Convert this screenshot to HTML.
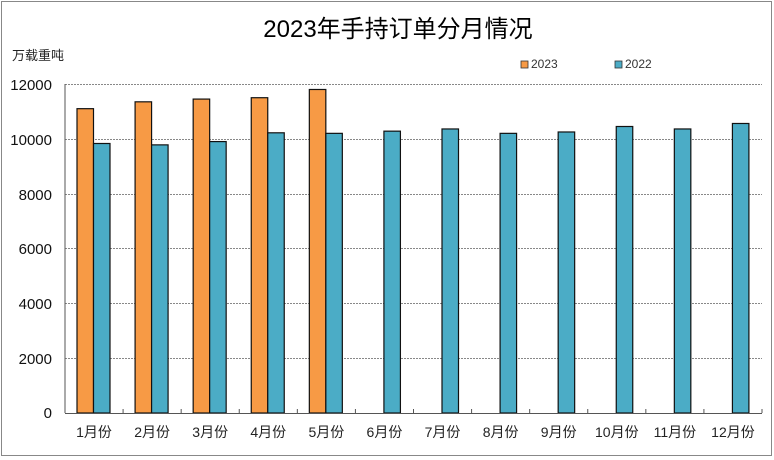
<!DOCTYPE html>
<html><head><meta charset="utf-8"><style>
html,body{margin:0;padding:0;background:#fff;}
svg{display:block;font-family:"Liberation Sans","Noto Sans CJK SC",sans-serif;}
</style></head><body>
<svg width="774" height="460" viewBox="0 0 774 460" xmlns="http://www.w3.org/2000/svg">
<rect x="0" y="0" width="774" height="460" fill="#fff"/>
<rect x="1.5" y="1.5" width="770" height="454" fill="none" stroke="#888" stroke-width="1"/>
<text x="398" y="37" font-size="24" text-anchor="middle" fill="#000">2023年手持订单分月情况</text>
<text x="12" y="60" font-size="13" fill="#222">万载重吨</text>
<rect x="521" y="61" width="7" height="7" fill="#f79a45" stroke="#333" stroke-width="0.8"/>
<text x="531" y="68" font-size="12" fill="#333">2023</text>
<rect x="615" y="61" width="7" height="7" fill="#4bacc6" stroke="#333" stroke-width="0.8"/>
<text x="625" y="68" font-size="12" fill="#333">2022</text>
<g stroke="#888" stroke-dasharray="2,1" stroke-width="1">
<line x1="65" y1="84.5" x2="762" y2="84.5"/>
<line x1="65" y1="139.5" x2="762" y2="139.5"/>
<line x1="65" y1="194.5" x2="762" y2="194.5"/>
<line x1="65" y1="248.5" x2="762" y2="248.5"/>
<line x1="65" y1="303.5" x2="762" y2="303.5"/>
<line x1="65" y1="358.5" x2="762" y2="358.5"/>
</g>
<g font-size="15" text-anchor="end" fill="#111">
<text x="52" y="90">12000</text>
<text x="52" y="145">10000</text>
<text x="52" y="200">8000</text>
<text x="52" y="254">6000</text>
<text x="52" y="309">4000</text>
<text x="52" y="364">2000</text>
<text x="52" y="418">0</text>
</g>
<g id="bars" stroke="#111" stroke-width="1.2"></g>
<line x1="65" y1="84" x2="65" y2="413" stroke="#555"/>
<line x1="65" y1="413.5" x2="762" y2="413.5" stroke="#555"/>
<g id="ticks" stroke="#555"></g>
<g id="labels" font-size="14" text-anchor="middle" fill="#222"></g>
<script>
var ns="http://www.w3.org/2000/svg";
var a=[11100,11350,11450,11500,11800];
var b=[9830,9780,9900,10220,10200,10280,10360,10200,10250,10450,10360,10560];
var sp=(762-65)/12,bars=document.getElementById('bars'),t=document.getElementById('ticks'),l=document.getElementById('labels');
function y(v){return 413-v*329/12000;}
function r(x,v,c){var e=document.createElementNS(ns,'rect');e.setAttribute('x',x);e.setAttribute('y',y(v));e.setAttribute('width',16.5);e.setAttribute('height',413-y(v));e.setAttribute('fill',c);bars.appendChild(e);}
for(var i=0;i<12;i++){var x0=65+i*sp;
if(i<5)r(x0+12,a[i],'#f79a45');
r(x0+28.5,b[i],'#4bacc6');
var tk=document.createElementNS(ns,'line');var tx=x0+sp;tk.setAttribute('x1',tx);tk.setAttribute('x2',tx);tk.setAttribute('y1',409);tk.setAttribute('y2',413);t.appendChild(tk);
var tt=document.createElementNS(ns,'text');tt.setAttribute('x',x0+sp/2);tt.setAttribute('y',437);tt.textContent=(i+1)+'月份';l.appendChild(tt);}
</script>
</svg>
</body></html>
